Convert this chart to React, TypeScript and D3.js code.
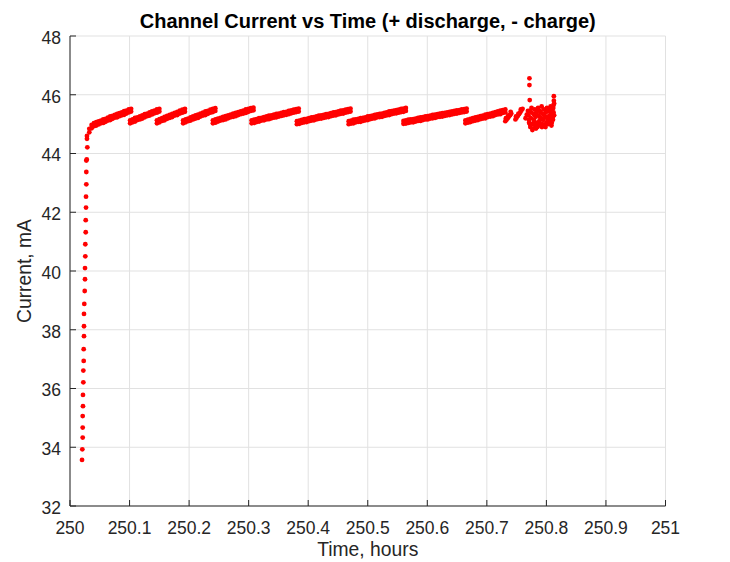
import React from "react";
import * as d3 from "d3";

// ---- data ----
const xTicks = [250, 250.1, 250.2, 250.3, 250.4, 250.5, 250.6, 250.7, 250.8, 250.9, 251];
const xTickLabels = ["250", "250.1", "250.2", "250.3", "250.4", "250.5", "250.6", "250.7", "250.8", "250.9", "251"];
const yTicks = [32, 34, 36, 38, 40, 42, 44, 46, 48];

// constant-current ramp at the start
const rampTimes = [
  250.0202, 250.0207, 250.0213, 250.0213, 250.0213, 250.0218, 250.0218, 250.0224, 250.0224, 250.023,
  250.023, 250.0235, 250.0235, 250.0235, 250.024, 250.0247, 250.0252, 250.0252, 250.0257, 250.0257,
  250.0264, 250.0264, 250.0269, 250.0269, 250.0274, 250.0274, 250.0274, 250.0281, 250.0291,
];
const rampCurrents = [
  33.57, 33.93, 34.33, 34.67, 35.06, 35.4, 35.78, 36.21, 36.61, 36.94,
  37.34, 37.78, 38.12, 38.54, 38.88, 39.32, 39.72, 40.1, 40.5, 40.91,
  41.32, 41.73, 42.16, 42.53, 42.95, 43.37, 43.76, 43.8, 44.21,
];

// sawtooth segments: samples evenly spaced in time between start and end,
// lower and upper edge of the noisy band
const segmentStarts = [250.0285, 250.101, 250.146, 250.19, 250.24, 250.305, 250.381, 250.468, 250.56, 250.664];
const segmentEnds = [250.1026, 250.15, 250.193, 250.244, 250.308, 250.384, 250.471, 250.564, 250.666, 250.731];
const segmentLower = [
  [44.5, 44.72, 44.86, 44.93, 44.95, 44.99, 45.03, 45.04, 45.08, 45.12, 45.14, 45.18, 45.22, 45.23, 45.27, 45.3, 45.32, 45.36, 45.4, 45.43],
  [45.03, 45.06, 45.09, 45.14, 45.16, 45.19, 45.23, 45.27, 45.29, 45.33, 45.37, 45.39, 45.43],
  [45.03, 45.06, 45.11, 45.13, 45.18, 45.21, 45.24, 45.29, 45.31, 45.36, 45.39, 45.42],
  [45.03, 45.06, 45.1, 45.12, 45.16, 45.19, 45.21, 45.26, 45.29, 45.31, 45.35, 45.39, 45.41, 45.45],
  [45.03, 45.05, 45.09, 45.12, 45.14, 45.16, 45.2, 45.23, 45.25, 45.27, 45.31, 45.34, 45.36, 45.38, 45.42, 45.45, 45.47],
  [45.03, 45.04, 45.07, 45.09, 45.12, 45.13, 45.16, 45.17, 45.2, 45.22, 45.23, 45.26, 45.28, 45.3, 45.32, 45.34, 45.37, 45.39, 45.41, 45.43],
  [45.0, 45.01, 45.04, 45.06, 45.07, 45.1, 45.12, 45.13, 45.16, 45.18, 45.19, 45.21, 45.23, 45.24, 45.27, 45.29, 45.3, 45.33, 45.35, 45.36, 45.39, 45.41, 45.43],
  [45.0, 45.02, 45.03, 45.06, 45.08, 45.08, 45.11, 45.13, 45.14, 45.17, 45.19, 45.2, 45.23, 45.24, 45.25, 45.28, 45.3, 45.31, 45.34, 45.36, 45.37, 45.39, 45.41, 45.42, 45.45],
  [45.01, 45.02, 45.04, 45.06, 45.06, 45.09, 45.11, 45.11, 45.14, 45.16, 45.16, 45.19, 45.2, 45.21, 45.24, 45.25, 45.26, 45.28, 45.3, 45.31, 45.33, 45.35, 45.36, 45.38, 45.4, 45.41, 45.43],
  [45.03, 45.05, 45.07, 45.1, 45.12, 45.14, 45.17, 45.19, 45.2, 45.24, 45.26, 45.27, 45.31, 45.33, 45.34, 45.38, 45.4],
];
const segmentUpper = [
  [44.6, 44.84, 44.97, 45.03, 45.07, 45.09, 45.12, 45.16, 45.18, 45.22, 45.26, 45.28, 45.31, 45.35, 45.37, 45.4, 45.44, 45.46, 45.5, 45.52],
  [45.13, 45.16, 45.21, 45.23, 45.26, 45.3, 45.34, 45.36, 45.4, 45.43, 45.46, 45.5, 45.52],
  [45.13, 45.17, 45.2, 45.25, 45.28, 45.31, 45.35, 45.38, 45.42, 45.46, 45.49, 45.52],
  [45.13, 45.16, 45.19, 45.23, 45.26, 45.3, 45.32, 45.36, 45.39, 45.43, 45.45, 45.49, 45.52, 45.54],
  [45.13, 45.16, 45.19, 45.21, 45.25, 45.27, 45.3, 45.32, 45.36, 45.38, 45.41, 45.43, 45.46, 45.5, 45.52, 45.54, 45.56],
  [45.13, 45.15, 45.17, 45.2, 45.21, 45.24, 45.26, 45.29, 45.3, 45.32, 45.35, 45.36, 45.38, 45.41, 45.42, 45.45, 45.47, 45.49, 45.51, 45.53],
  [45.1, 45.12, 45.14, 45.17, 45.18, 45.2, 45.23, 45.24, 45.26, 45.29, 45.3, 45.31, 45.34, 45.35, 45.37, 45.4, 45.41, 45.43, 45.46, 45.47, 45.49, 45.51, 45.53],
  [45.1, 45.12, 45.15, 45.16, 45.18, 45.2, 45.21, 45.23, 45.26, 45.27, 45.29, 45.31, 45.33, 45.35, 45.36, 45.38, 45.4, 45.43, 45.44, 45.46, 45.48, 45.49, 45.52, 45.53, 45.55],
  [45.11, 45.13, 45.15, 45.16, 45.17, 45.19, 45.21, 45.23, 45.24, 45.26, 45.27, 45.29, 45.31, 45.32, 45.34, 45.36, 45.37, 45.38, 45.4, 45.42, 45.43, 45.45, 45.47, 45.48, 45.5, 45.51, 45.53],
  [45.13, 45.15, 45.18, 45.2, 45.23, 45.25, 45.27, 45.29, 45.32, 45.34, 45.36, 45.38, 45.41, 45.43, 45.46, 45.48, 45.5],
];

// short pieces and the noisy cluster at the end
const tailTimes = [
  250.731, 250.733, 250.735, 250.737, 250.739, 250.741, 250.732, 250.736, 250.74,
  250.748, 250.75, 250.752, 250.754, 250.756, 250.758, 250.76, 250.749, 250.753, 250.757,
  250.765, 250.767, 250.769,
  250.77, 250.771, 250.772, 250.773, 250.774, 250.775, 250.776, 250.777, 250.778, 250.779,
  250.78, 250.781, 250.782, 250.783, 250.784, 250.785, 250.786, 250.787, 250.788, 250.789,
  250.79, 250.791, 250.792, 250.793, 250.794, 250.795, 250.796, 250.797, 250.798, 250.799,
  250.8, 250.801, 250.802, 250.803, 250.804, 250.805, 250.806, 250.807, 250.808, 250.809,
  250.81, 250.811, 250.812, 250.8125, 250.8125, 250.812, 250.811,
  250.7705, 250.7725, 250.7745, 250.7765, 250.7785, 250.7805, 250.7825, 250.7845, 250.7865, 250.7885,
  250.7905, 250.7925, 250.7945, 250.7965, 250.7985, 250.8005, 250.8025, 250.8045, 250.8065, 250.8085,
  250.8105, 250.8115, 250.813, 250.813,
  250.7715, 250.7715, 250.772,
];
const tailCurrents = [
  45.1, 45.15, 45.2, 45.26, 45.3, 45.36, 45.2, 45.3, 45.42,
  45.16, 45.22, 45.28, 45.34, 45.4, 45.46, 45.52, 45.26, 45.36, 45.5,
  45.2, 45.32, 45.45,
  45.3, 45.05, 45.45, 44.9, 45.2, 45.55, 45.0, 44.85, 45.35, 45.15,
  45.5, 44.95, 45.25, 45.4, 45.05, 44.9, 45.55, 45.3, 45.1, 45.45,
  44.95, 45.2, 45.6, 45.0, 45.35, 45.15, 45.5, 44.98, 45.25, 45.4,
  45.05, 45.55, 45.2, 45.0, 45.45, 45.3, 45.1, 45.6, 45.35, 45.05,
  45.5, 45.25, 45.65, 45.8, 45.95, 45.4, 45.15,
  45.15, 45.0, 45.4, 44.8, 45.05, 45.3, 44.85, 45.5, 45.0, 45.25,
  45.4, 44.9, 45.15, 45.3, 44.9, 45.45, 45.1, 45.2, 45.5, 44.95,
  45.4, 45.55, 45.3, 45.7,
  46.56, 46.33, 45.82,
];

const W = 730;
const H = 562;
const margin = { top: 36, right: 64.5, bottom: 56, left: 70 };
const font = "'Liberation Sans', Arial, Helvetica, sans-serif";
const axisColor = "#262626";

export default function App() {
  const innerW = W - margin.left - margin.right;
  const innerH = H - margin.top - margin.bottom;

  const x = d3.scaleLinear().domain([250, 251]).range([margin.left, margin.left + innerW]);
  const y = d3.scaleLinear().domain([32, 48]).range([margin.top + innerH, margin.top]);

  const points: [number, number][] = [];
  rampTimes.forEach((t, i) => points.push([t, rampCurrents[i]]));
  [segmentLower, segmentUpper].forEach((rows) => {
    rows.forEach((vals, s) => {
      const n = vals.length;
      vals.forEach((v, k) => {
        const t = segmentStarts[s] + ((segmentEnds[s] - segmentStarts[s]) * k) / (n - 1);
        points.push([t, v]);
      });
    });
  });
  tailTimes.forEach((t, i) => points.push([t, tailCurrents[i]]));

  const [x0, x1] = x.range();
  const [y0, y1] = y.range();

  return (
    <svg
      width={W}
      height={H}
      style={{ position: "absolute", left: 0, top: 0, background: "#fff" }}
      fontFamily={font}
    >
      <rect width={W} height={H} fill="#fff" />

      {/* grid */}
      <g stroke="#e1e1e1" strokeWidth={1}>
        {xTicks.map((t) => (
          <line key={"gx" + t} x1={x(t)} x2={x(t)} y1={y0} y2={y1} />
        ))}
        {yTicks.map((t) => (
          <line key={"gy" + t} x1={x0} x2={x1} y1={y(t)} y2={y(t)} />
        ))}
      </g>

      {/* axes */}
      <g stroke={axisColor} strokeWidth={1} fill="none">
        <line x1={x0} x2={x1} y1={y0} y2={y0} />
        <line x1={x0} x2={x0} y1={y0} y2={y1} />
        {xTicks.map((t) => (
          <line key={"tx" + t} x1={x(t)} x2={x(t)} y1={y0} y2={y0 - 6} />
        ))}
        {yTicks.map((t) => (
          <line key={"ty" + t} x1={x0} x2={x0 + 6} y1={y(t)} y2={y(t)} />
        ))}
      </g>

      {/* data */}
      <g fill="#ff0000">
        {points.map((p, i) => (
          <circle key={i} cx={x(p[0])} cy={y(p[1])} r={2.4} />
        ))}
      </g>

      {/* tick labels */}
      <g fill={axisColor} fontSize={17.5}>
        {xTicks.map((t, i) => (
          <text key={"lx" + t} x={x(t)} y={y0 + 28} textAnchor="middle">
            {xTickLabels[i]}
          </text>
        ))}
        {yTicks.map((t) => (
          <text key={"ly" + t} x={x0 - 9} y={y(t)} dy="0.45em" textAnchor="end">
            {t}
          </text>
        ))}
      </g>

      {/* labels */}
      <text x={(x0 + x1) / 2} y={555.5} textAnchor="middle" fontSize={19.3} fill={axisColor}>
        Time, hours
      </text>
      <text
        transform={`translate(31,${(y0 + y1) / 2}) rotate(-90)`}
        textAnchor="middle"
        fontSize={19.3}
        fill={axisColor}
      >
        Current, mA
      </text>
      <text x={(x0 + x1) / 2} y={28.3} textAnchor="middle" fontSize={20} fontWeight="bold" fill="#000">
        Channel Current vs Time (+ discharge, - charge)
      </text>
    </svg>
  );
}
